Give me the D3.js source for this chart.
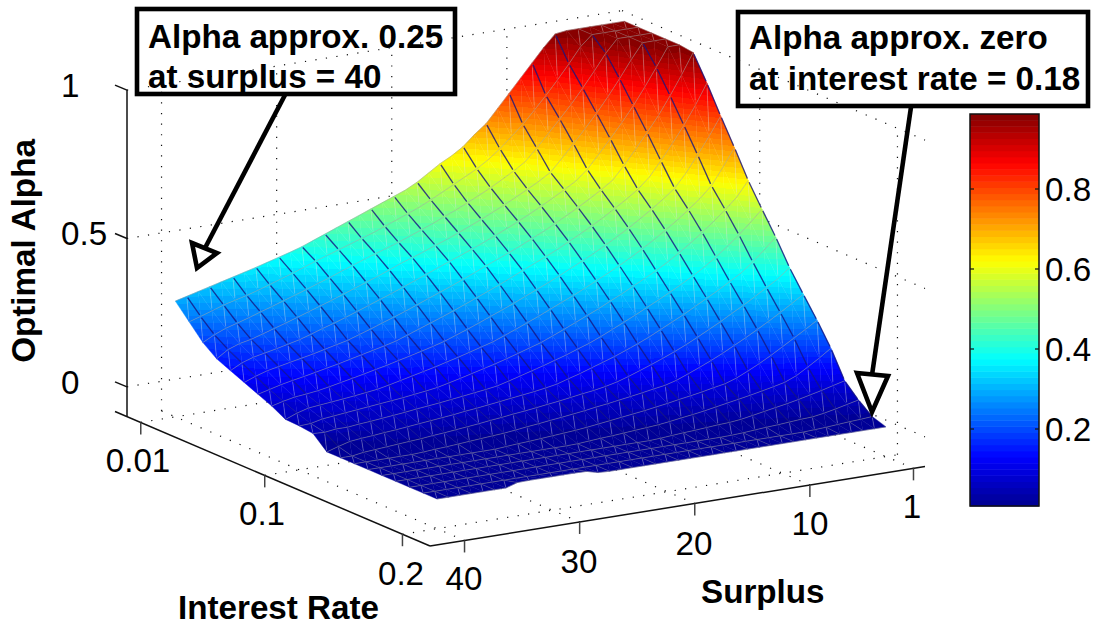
<!DOCTYPE html>
<html><head><meta charset="utf-8">
<script src="https://cdnjs.cloudflare.com/ajax/libs/d3/7.8.5/d3.min.js"></script>
<style>html,body{margin:0;padding:0;background:#fff}svg{display:block}text{font-family:"Liberation Sans",Arial,sans-serif;fill:#000}</style>
</head><body><svg id="c" width="1098" height="626"></svg>
<script>
const interestRates=[.01,.02,.03,.04,.05,.06,.07,.08,.09,.10,.11,.12,.13,.14,.15,.16,.17,.18,.19,.20];
const surpluses=[1,2,3,4,5,6,7,8,9,10,11,12,13,14,15,16,17,18,19,20,21,22,23,24,25,26,27,28,29,30,31,32,33,34,35,36,37,38,39,40];
// optimal alpha: one row per surplus, one value per interest rate
const alpha=[
[.990,.990,.990,.990,.990,.984,.901,.810,.723,.632,.555,.481,.398,.328,.260,.186,.096,.051,.015,0],
[.990,.990,.990,.990,.990,.915,.832,.748,.663,.582,.517,.444,.367,.303,.236,.159,.086,.042,.012,0],
[.990,.990,.990,.990,.927,.851,.771,.691,.607,.546,.481,.410,.343,.279,.213,.135,.076,.033,.010,0],
[.990,.990,.990,.938,.867,.791,.716,.637,.570,.513,.449,.379,.319,.256,.190,.112,.067,.025,.007,0],
[.990,.990,.947,.881,.810,.739,.664,.591,.539,.482,.419,.356,.296,.234,.167,.096,.058,.019,.004,0],
[.990,.955,.893,.827,.759,.689,.615,.561,.509,.453,.392,.333,.275,.213,.146,.087,.050,.017,.002,0],
[.985,.904,.842,.777,.711,.641,.580,.533,.482,.426,.368,.312,.253,.193,.127,.079,.043,.014,0,0],
[.945,.856,.794,.731,.665,.597,.553,.507,.456,.401,.346,.291,.233,.173,.109,.071,.036,.011,0,0],
[.900,.810,.750,.687,.620,.571,.528,.482,.432,.378,.325,.270,.213,.155,.096,.064,.029,.009,0,0],
[.855,.767,.707,.644,.587,.547,.504,.459,.409,.358,.305,.251,.194,.138,.089,.057,.022,.006,0,0],
[.810,.725,.665,.603,.564,.524,.482,.437,.388,.338,.286,.232,.177,.122,.081,.050,.018,.003,0,0],
[.765,.690,.625,.579,.542,.503,.461,.416,.368,.318,.267,.213,.161,.107,.074,.043,.016,.001,0,0],
[.720,.655,.600,.558,.521,.482,.441,.396,.349,.300,.249,.196,.146,.096,.068,.037,.013,0,0,0],
[.690,.625,.578,.538,.501,.462,.421,.378,.330,.281,.231,.181,.132,.090,.061,.032,.010,0,0,0],
[.655,.600,.556,.518,.482,.444,.403,.359,.312,.264,.213,.166,.118,.083,.055,.026,.008,0,0,0],
[.630,.580,.537,.500,.464,.426,.386,.341,.295,.247,.197,.153,.106,.077,.049,.021,.005,0,0,0],
[.610,.560,.518,.482,.447,.409,.369,.324,.278,.230,.184,.140,.097,.071,.044,.018,.002,0,0,0],
[.585,.540,.500,.465,.430,.393,.351,.307,.261,.214,.170,.127,.090,.065,.039,.015,0,0,0,0],
[.560,.520,.484,.449,.414,.377,.334,.290,.245,.198,.158,.116,.085,.060,.034,.012,0,0,0,0],
[.540,.502,.467,.433,.399,.360,.318,.274,.229,.186,.146,.104,.079,.054,.029,.009,0,0,0,0],
[.525,.486,.452,.419,.384,.344,.302,.259,.214,.174,.135,.097,.073,.049,.024,.007,0,0,0,0],
[.510,.471,.437,.404,.369,.328,.286,.243,.199,.162,.124,.091,.068,.044,.020,.004,0,0,0,0],
[.495,.456,.422,.390,.353,.313,.271,.228,.188,.151,.113,.086,.063,.040,.017,.001,0,0,0,0],
[.480,.441,.409,.377,.338,.298,.256,.214,.177,.141,.103,.081,.058,.035,.014,0,0,0,0,0],
[.465,.428,.396,.361,.323,.283,.242,.200,.166,.131,.097,.076,.054,.031,.011,0,0,0,0,0],
[.450,.415,.383,.346,.308,.268,.228,.189,.156,.121,.092,.071,.049,.026,.008,0,0,0,0,.002],
[.435,.402,.369,.332,.294,.254,.214,.179,.146,.112,.087,.066,.045,.022,.006,0,0,0,0,.012],
[.420,.389,.355,.318,.280,.241,.200,.169,.137,.103,.082,.062,.040,.019,.003,0,0,0,0,.013],
[.405,.376,.340,.304,.266,.227,.190,.160,.128,.097,.077,.057,.036,.016,0,0,0,0,0,.013],
[.393,.362,.327,.290,.252,.214,.181,.150,.119,.092,.073,.053,.032,.013,0,0,0,0,0,.013],
[.382,.348,.313,.277,.239,.201,.172,.142,.110,.087,.069,.049,.028,.010,0,0,0,0,0,.013],
[.371,.335,.300,.264,.227,.192,.163,.133,.102,.083,.064,.045,.025,.007,0,0,0,0,0,.013],
[.360,.322,.287,.251,.214,.183,.154,.125,.097,.079,.060,.041,.021,.005,0,0,0,0,0,.012],
[.350,.309,.274,.238,.202,.174,.146,.117,.092,.075,.056,.037,.018,.002,0,0,0,0,0,0],
[.340,.298,.262,.226,.193,.166,.138,.109,.088,.071,.052,.034,.015,0,0,0,0,0,0,0],
[.330,.288,.249,.214,.184,.158,.130,.102,.084,.067,.049,.030,.012,0,0,0,0,0,0,0],
[.320,.278,.237,.202,.176,.150,.123,.097,.080,.063,.045,.027,.009,0,0,0,0,0,0,0],
[.310,.265,.226,.194,.168,.142,.115,.093,.076,.059,.045,.023,.006,0,0,0,0,0,0,0],
[.300,.252,.210,.180,.155,.130,.105,.085,.065,.050,.040,.012,0,0,0,0,0,0,0,0],
[.290,.240,.190,.155,.135,.115,.095,.075,.050,.048,.042,0,0,0,0,0,0,0,0,0]
];
const rateTicks=[.01,.1,.2], rateLabels=["0.01","0.1","0.2"];
const surplusTicks=[1,10,20,30,40], surplusLabels=["1","10","20","30","40"];
const alphaTicks=[0,.5,1], alphaLabels=["0","0.5","1"];
const barTicks=[.2,.4,.6,.8], barLabels=["0.2","0.4","0.6","0.8"];

const FONT=33.2, O={x:127,y:416.5};
const rx=d3.scaleLinear([0,.22],[0,303]), ry=d3.scaleLinear([0,.22],[0,129.5]);
const sx=d3.scaleLinear([43,0],[0,495]), sy=d3.scaleLinear([43,0],[0,-79.5]);
const zy=d3.scaleLinear([-.1,1],[0,-326.4]);
const P=(r,s,z)=>({x:O.x+rx(r)+sx(s),y:O.y+ry(r)+sy(s)+zy(z),z});
const dMin=.0075,dMax=.9875,N=64;
const jet=d3.scaleLinear([0,1/8,3/8,5/8,7/8,1],["#00008f","#0000ff","#00ffff","#ffff00","#ff0000","#800000"]).clamp(true);
const levelColor=i=>jet((i+.5)/N);
const levelOf=z=>Math.max(0,Math.min(N-1,Math.floor((z-dMin)/(dMax-dMin)*N)));
const levelValue=i=>dMin+i*(dMax-dMin)/N;

const svg=d3.select("#c"), defs=svg.append("defs");
const line=d3.line().x(d=>d.x).y(d=>d.y);
const seg=(g,a,b)=>g.append("path").attr("d",line([a,b]));

// dotted box grid
const grid=svg.append("g").attr("fill","none").attr("stroke","#111").attr("stroke-width",1.2).attr("stroke-dasharray","1.2 9.4");
surplusTicks.forEach(s=>{seg(grid,P(0,s,-.1),P(0,s,1));seg(grid,P(0,s,-.1),P(.22,s,-.1));});
rateTicks.forEach(r=>{seg(grid,P(r,0,-.1),P(r,0,1));seg(grid,P(r,43,-.1),P(r,0,-.1));});
alphaTicks.forEach(z=>{seg(grid,P(0,43,z),P(0,0,z));seg(grid,P(0,0,z),P(.22,0,z));});

// surface
const surf=svg.append("g").attr("stroke-width",.4);
let gid=0;
function tri(a,b,c){
  const la=levelOf(Math.min(a.z,b.z,c.z)), lb=levelOf(Math.max(a.z,b.z,c.z));
  const p=surf.append("path").attr("d",line([a,b,c])+"Z");
  if(la===lb){p.attr("fill",levelColor(la)).attr("stroke",levelColor(la));return;}
  const det=(b.x-a.x)*(c.y-a.y)-(c.x-a.x)*(b.y-a.y);
  const gx=((b.z-a.z)*(c.y-a.y)-(c.z-a.z)*(b.y-a.y))/det;
  const gy=((c.z-a.z)*(b.x-a.x)-(b.z-a.z)*(c.x-a.x))/det;
  const g2=gx*gx+gy*gy, lo=[a,b,c].reduce((m,v)=>v.z<m.z?v:m);
  const zlo=lo.z, zhi=Math.max(a.z,b.z,c.z), dz=zhi-zlo;
  const id="g"+(gid++);
  const grad=defs.append("linearGradient").attr("id",id).attr("gradientUnits","userSpaceOnUse")
    .attr("x1",lo.x).attr("y1",lo.y).attr("x2",lo.x+gx*dz/g2).attr("y2",lo.y+gy*dz/g2);
  for(let i=la;i<=lb;i++){
    const t0=Math.max(0,(levelValue(i)-zlo)/dz), t1=Math.min(1,(levelValue(i+1)-zlo)/dz);
    grad.append("stop").attr("offset",t0).attr("stop-color",levelColor(i));
    grad.append("stop").attr("offset",t1).attr("stop-color",levelColor(i));
  }
  p.attr("fill",`url(#${id})`).attr("stroke",`url(#${id})`);
}
surpluses.forEach((s,i)=>{ if(i===surpluses.length-1)return;
  interestRates.forEach((r,k)=>{ if(k===interestRates.length-1)return;
    const a=P(r,s,alpha[i][k]),b=P(interestRates[k+1],s,alpha[i][k+1]),
          c=P(r,surpluses[i+1],alpha[i+1][k]),d=P(interestRates[k+1],surpluses[i+1],alpha[i+1][k+1]);
    tri(a,b,d);tri(a,d,c);
  });
});
// mesh: every rate, every second surplus, with pale near-vertical diagonals
const mesh=svg.append("g").attr("fill","none");
const partial=(a,b,t0,t1)=>[{x:a.x+(b.x-a.x)*t0,y:a.y+(b.y-a.y)*t0},{x:a.x+(b.x-a.x)*t1,y:a.y+(b.y-a.y)*t1}];
surpluses.forEach((s,i)=>{interestRates.forEach((r,k)=>{
  const a=P(r,s,alpha[i][k]);
  if(i<surpluses.length-1){
    seg(mesh,a,P(r,surpluses[i+1],alpha[i+1][k])).attr("stroke","#999").attr("stroke-width",.8).attr("opacity",.6);
  }
  if(k<interestRates.length-1&&i%2===0){
    const b=P(interestRates[k+1],s,alpha[i][k+1]);
    const dz=Math.abs(alpha[i][k]-alpha[i][k+1]);
    if(dz>.012)mesh.append("path").attr("d",line(partial(a,b,.06,.94))).attr("stroke","#101080").attr("stroke-width",1.3).attr("opacity",Math.min(1,(dz-.012)/.016)*.8);
    else seg(mesh,a,b).attr("stroke","#999").attr("stroke-width",.6).attr("opacity",.5);
  }
  if(k<interestRates.length-1&&i<surpluses.length-1&&i%2===0){
    const d=P(interestRates[k+1],surpluses[i+1],alpha[i+1][k+1]);
    mesh.append("path").attr("d",line(partial(a,d,.1,.9))).attr("stroke","#ddd").attr("stroke-width",.7).attr("opacity",.45);
  }
});});

// axes
const ax=svg.append("g").attr("fill","none").attr("stroke","#111").attr("stroke-width",1.5);
seg(ax,P(0,43,1),P(0,43,-.1));
const tz={x:-12,y:-5};
alphaTicks.forEach(z=>{const p=P(0,43,z);seg(ax,{x:p.x+tz.x,y:p.y+tz.y},p);});
const pb=P(0,43,-.1);
seg(ax,{x:pb.x+tz.x,y:pb.y+tz.y},P(.22,43,-.1));
seg(ax,P(.22,43,-.1),P(.22,0,-.1));
rateTicks.forEach(r=>{const p=P(r,43,-.1);seg(ax,p,{x:p.x,y:p.y+12}).attr("stroke","#444");});
surplusTicks.forEach(s=>{const p=P(.22,s,-.1);seg(ax,p,{x:p.x,y:p.y+12}).attr("stroke","#444");});

const txt=(x,y,t,o={})=>svg.append("text").attr("x",x).attr("y",y).attr("font-size",FONT)
  .attr("font-weight",o.bold?"bold":"normal").attr("text-anchor",o.anchor||"start").attr("transform",o.tf||null).text(t);
// tick labels
alphaTicks.forEach((z,i)=>txt(61,P(0,43,z).y+7,alphaLabels[i]));
const rateBase=[472,525,585],rateCx=[138,262,401];
rateTicks.forEach((r,i)=>txt(rateCx[i],rateBase[i],rateLabels[i],{anchor:"middle"}));
const sBase=[518,535,555,573,590],sCx=[912,810,694,579,464];
surplusTicks.forEach((s,i)=>txt(sCx[i],sBase[i],surplusLabels[i],{anchor:"middle"}));
// titles
txt(178,619,"Interest Rate",{bold:true});
txt(701,603,"Surplus",{bold:true});
txt(0,0,"Optimal Alpha",{bold:true,anchor:"middle",tf:"translate(35,251) rotate(-90)"});

// colour bar
const cbY=d3.scaleLinear([dMin,dMax],[506,114]);
const cb=svg.append("g");
cb.selectAll("rect").data(d3.range(N)).join("rect")
  .attr("x",970).attr("width",69)
  .attr("y",i=>cbY(levelValue(i+1))).attr("height",i=>cbY(levelValue(i))-cbY(levelValue(i+1))+.5)
  .attr("fill",levelColor);
cb.append("rect").attr("x",970).attr("y",114).attr("width",69).attr("height",392).attr("fill","none").attr("stroke","#111").attr("stroke-width",1.5);
barTicks.forEach((v,i)=>{
  const y=cbY(v);
  seg(cb,{x:970,y},{x:974,y}).attr("stroke","#111").attr("stroke-width",1.2);
  seg(cb,{x:1035,y},{x:1039,y}).attr("stroke","#111").attr("stroke-width",1.2);
  txt(1045,y+12,barLabels[i]);
});

// annotations
const note=svg.append("g").attr("fill","none").attr("stroke","#000").attr("stroke-width",4.6);
note.append("rect").attr("x",137).attr("y",9).attr("width",318).attr("height",85);
note.append("rect").attr("x",738).attr("y",12).attr("width",350).attr("height",94);
seg(note,{x:285,y:95},{x:205,y:248});
note.append("path").attr("d",line([{x:192,y:243},{x:217,y:253},{x:197,y:268}])+"Z");
seg(note,{x:911,y:107},{x:872,y:375});
note.append("path").attr("d",line([{x:857,y:373},{x:888,y:376},{x:872,y:412}])+"Z");
txt(148,48,"Alpha approx. 0.25",{bold:true});
txt(148,88,"at surplus = 40",{bold:true});
txt(749,49,"Alpha approx. zero",{bold:true});
txt(749,90,"at interest rate = 0.18",{bold:true});
</script></body></html>
